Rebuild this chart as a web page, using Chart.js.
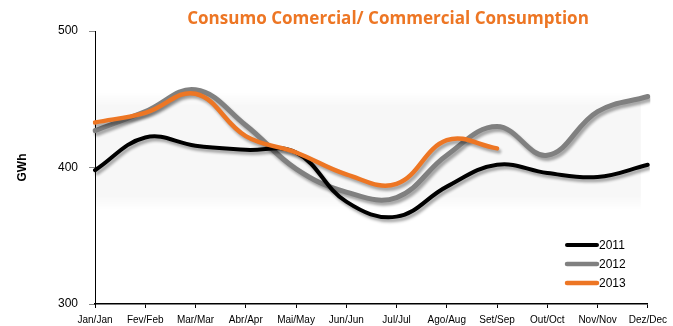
<!DOCTYPE html>
<html>
<head>
<meta charset="utf-8">
<script src="https://cdn.jsdelivr.net/npm/chart.js@4"></script>
<style>
 html,body{margin:0;padding:0;background:#fff}
 #wrap{width:673px;height:326px;position:relative}
</style>
</head>
<body>
<div id="wrap"><canvas id="chart" width="673" height="326"></canvas></div>
<script>
/* ========= DATA ========= */

const months=["Jan/Jan","Fev/Feb","Mar/Mar","Abr/Apr","Mai/May","Jun/Jun","Jul/Jul","Ago/Aug","Set/Sep","Out/Oct","Nov/Nov","Dez/Dec"]
const y2011=[398,422,416,413,411,375,364,386,402,396,393,402]
const y2012=[427,441,457,431,399,382,378,409,430,409,441,452]
const y2013=[433,440,454,423,411,395,388,420,414,null,null,null]
const yTicks=[300,400,500]
const title="Consumo Comercial/ Commercial Consumption"

const ORANGE="#ED7624"

/* ========= PLUGINS ========= */

const shadow={
 id:"shadow",
 beforeDatasetDraw(c){
  const x=c.ctx
  x.save()
  x.shadowColor="rgba(0,0,0,0.35)"
  x.shadowBlur=3
  x.shadowOffsetX=2
  x.shadowOffsetY=3
 },
 afterDatasetDraw(c){c.ctx.restore()}
}

const band={
 id:"band",
 beforeDatasetsDraw(c){
  const x=c.ctx,a=c.chartArea
  const g=x.createLinearGradient(0,92,0,210)
  g.addColorStop(0,"rgba(0,0,0,0)")
  g.addColorStop(0.12,"rgba(0,0,0,0.03)")
  g.addColorStop(0.88,"rgba(0,0,0,0.03)")
  g.addColorStop(1,"rgba(0,0,0,0)")
  x.save()
  x.fillStyle=g
  x.fillRect(a.left+1,92,a.right-a.left-8,118)
  x.restore()
 }
}

const deco={
 id:"deco",
 afterDraw(c){
  const x=c.ctx
  x.save()
  // title
  let fs=19
  x.font=`bold ${fs}px "Open Sans"`
  const w=x.measureText(title).width
  if(w>402){fs=fs*402/w;x.font=`bold ${fs}px "Open Sans"`}
  x.fillStyle=ORANGE
  x.textAlign="center"
  x.textBaseline="alphabetic"
  x.fillText(title,388,24)
  // legend
  const items=[["2011","#000",4],["2012","#808080",4.5],["2013",ORANGE,4.5]]
  x.font='12px "Liberation Sans"'
  x.textAlign="left"
  x.textBaseline="middle"
  items.forEach((it,i)=>{
   const y=245+i*19
   x.strokeStyle=it[1]
   x.lineWidth=it[2]
   x.lineCap="round"
   x.beginPath();x.moveTo(567,y);x.lineTo(597,y);x.stroke()
   x.fillStyle="#000"
   x.fillText(it[0],599,y+1)
  })
  x.restore()
 }
}

/* ========= CHART ========= */

const ds=(label,data,col,w,ord)=>({
 label,data,borderColor:col,backgroundColor:col,borderWidth:w,
 tension:0.4,pointRadius:0,fill:false,order:ord,spanGaps:false,
 borderCapStyle:"round",borderJoinStyle:"round"
})

new Chart(document.getElementById("chart"),{
 type:"line",
 data:{
  labels:months,
  datasets:[
   ds("2011",y2011,"#000000",4,2),
   ds("2012",y2012,"#808080",5,3),
   ds("2013",y2013,ORANGE,4.5,1)
  ]
 },
 options:{
  responsive:false,
  animation:false,
  layout:{padding:{top:31,right:25,left:0,bottom:0}},
  plugins:{legend:{display:false},tooltip:{enabled:false},title:{display:false}},
  scales:{
   x:{
    offset:false,
    grid:{drawOnChartArea:false,drawTicks:true,tickLength:4,color:"#000"},
    border:{color:"#000",width:1.5},
    ticks:{font:{family:"Liberation Sans",size:10},color:"#000",padding:6,maxRotation:0,autoSkip:false},
    afterFit(s){s.height=22}
   },
   y:{
    min:300,max:500,
    afterBuildTicks(s){s.ticks=yTicks.map(v=>({value:v}))},
    grid:{drawOnChartArea:false,drawTicks:true,tickLength:6,color:"#888"},
    border:{color:"#000",width:1},
    ticks:{font:{family:"Liberation Sans",size:12},color:"#000",padding:11},
    title:{display:true,text:"GWh",color:"#000",font:{family:"Liberation Sans",size:12,weight:"bold"},padding:{top:15,bottom:0}},
    afterFit(s){s.width=95}
   }
  }
 },
 plugins:[band,shadow,deco]
})
</script>
</body>
</html>
